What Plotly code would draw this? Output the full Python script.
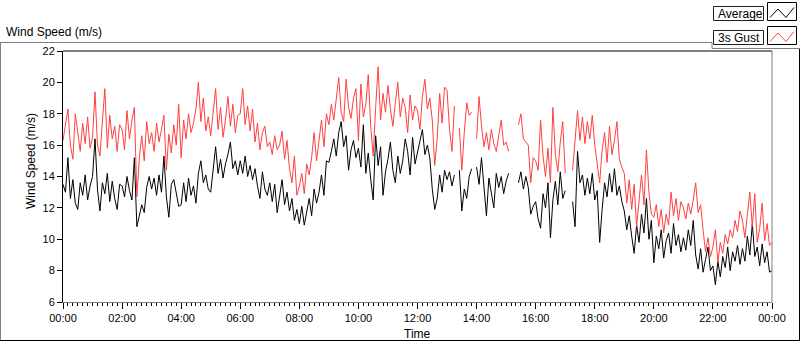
import plotly.graph_objects as go

# ---------------- data (5-minute samples, one row per hour) -------------
AVG_BY_HOUR = [
    [13.5, 13.0, 15.2, 12.6, 13.8, 12.3, 11.9, 13.6, 12.8, 14.1, 12.5, 13.4],   # 00h
    [14.0, 16.4, 13.2, 11.8, 13.6, 12.9, 14.2, 12.4, 13.7, 12.6, 11.9, 13.5],   # 01h
    [13.4, 12.7, 14.0, 13.1, 12.5, 15.2, 10.8, 11.6, 12.2, 11.7, 13.3, 14.0],   # 02h
    [13.2, 13.9, 12.8, 14.1, 13.0, 15.3, 12.7, 11.4, 13.5, 13.8, 12.9, 12.1],   # 03h
    [12.2, 13.6, 12.4, 13.9, 12.8, 13.4, 12.3, 14.2, 15.0, 13.6, 14.1, 13.2],   # 04h
    [13.0, 14.6, 15.9, 14.2, 15.1, 13.9, 14.8, 15.4, 16.2, 14.5, 15.0, 14.1],   # 05h
    [15.0, 14.2, 15.3, 14.0, 14.7, 13.8, 14.5, 13.4, 12.6, 14.3, 13.2, 12.8],   # 06h
    [13.6, 12.4, 13.5, 11.7, 12.9, 13.8, 12.2, 13.0, 11.8, 12.6, 11.2, 11.9],   # 07h
    [11.0, 12.1, 10.9, 11.8, 12.6, 11.5, 13.2, 12.3, 13.0, 14.1, 12.8, 15.0],   # 08h
    [14.9, 15.6, 16.4, 15.3, 16.8, 17.5, 15.9, 16.6, 14.4, 15.7, 16.3, 15.2],   # 09h
    [15.8, 14.6, 17.3, 14.2, 15.5, 13.8, 12.5, 16.6, 14.7, 15.9, 12.8, 14.3],   # 10h
    [15.1, 16.2, 14.4, 13.6, 15.3, 14.2, 15.0, 16.4, 15.6, 14.1, 16.5, 14.8],   # 11h
    [15.6, 16.2, 17.0, 15.4, 16.0, 15.2, 13.2, 11.9, 12.6, 14.1, 13.0, 14.4],   # 12h
    [13.8, 14.3, 13.4, 14.1, None, 14.4, 11.8, 13.2, 12.6, 14.0, 14.5, None],   # 13h
    [14.6, 13.5, 15.2, 13.1, 11.5, 13.9, 12.8, 12.0, 14.2, 13.3, 14.0, 12.9],   # 14h
    [13.7, 14.2, None, None, None, 13.6, 14.3, 13.2, 14.0, 13.3, 11.6, 12.1],   # 15h
    [12.4, 11.3, 10.7, 12.9, 12.0, 13.6, 10.1, 12.5, 13.7, 12.2, 14.3, 12.6],   # 16h
    [13.1, None, None, 12.4, 10.8, 15.6, 13.6, 14.1, 12.8, 13.9, 12.9, 14.2],   # 17h
    [12.5, 13.1, 9.8, 11.9, 13.6, 12.7, 14.2, 13.0, 14.5, 12.8, 13.4, 12.4],    # 18h
    [11.8, 10.6, 11.5, 10.2, 9.1, 10.9, 9.8, 11.6, 10.4, 12.6, 10.0, 11.2],     # 19h
    [8.5, 10.2, 9.4, 10.6, 8.8, 9.9, 10.4, 9.1, 11.0, 9.6, 10.3, 9.2],          # 20h
    [10.1, 9.3, 10.6, 9.6, 11.2, 9.0, 8.1, 9.4, 7.9, 8.7, 9.5, 8.0],            # 21h
    [8.3, 7.1, 8.6, 7.6, 8.9, 8.2, 9.5, 8.0, 9.2, 8.6, 9.6, 8.4],               # 22h
    [9.4, 8.6, 10.2, 9.0, 11.0, 8.9, 9.5, 8.3, 9.7, 8.5, 9.2, 7.9],             # 23h
]
AVG_LAST = 8.0

GUST_BY_HOUR = [
    [16.3, 17.2, 18.3, 16.0, 15.1, 18.0, 16.6, 15.6, 17.4, 16.1, 17.8, 15.8],   # 00h
    [16.5, 19.4, 16.0, 15.3, 17.5, 19.6, 15.8, 17.9, 16.4, 17.2, 15.6, 17.3],   # 01h
    [17.0, 15.7, 18.2, 16.4, 17.6, 18.4, 12.7, 15.2, 16.6, 15.0, 17.5, 16.1],   # 02h
    [16.8, 15.6, 17.4, 16.2, 17.0, 17.9, 14.4, 16.7, 15.5, 17.3, 16.0, 18.6],   # 03h
    [15.2, 17.6, 16.4, 18.0, 16.8, 17.4, 18.3, 20.0, 17.5, 19.0, 16.9, 17.8],   # 04h
    [16.6, 18.2, 19.6, 17.0, 18.4, 16.5, 17.6, 19.1, 17.2, 18.6, 16.8, 17.9],   # 05h
    [18.0, 19.6, 17.3, 18.5, 16.9, 18.3, 16.2, 17.4, 15.7, 16.8, 17.2, 15.9],   # 06h
    [16.2, 15.4, 16.6, 15.7, 16.0, 16.9, 15.1, 16.3, 14.5, 13.6, 15.3, 12.8],   # 07h
    [13.4, 14.2, 12.9, 14.8, 14.1, 15.2, 16.8, 15.0, 16.2, 17.6, 15.9, 18.0],   # 08h
    [17.3, 18.6, 17.6, 19.0, 20.3, 18.1, 17.5, 20.2, 18.4, 17.7, 19.0, 19.6],   # 09h
    [16.3, 19.9, 17.8, 18.6, 20.5, 17.2, 15.3, 18.4, 21.0, 17.6, 19.3, 18.1],   # 10h
    [19.8, 18.3, 17.2, 18.7, 20.0, 17.8, 19.0, 18.4, 16.8, 19.2, 17.6, 18.5],   # 11h
    [18.2, 17.0, 19.1, 20.2, 18.3, 19.0, 17.6, 14.7, 16.4, 19.3, 17.4, 19.7],   # 12h
    [19.5, 17.0, 15.6, 18.5, None, 17.1, 14.4, 16.8, 18.7, 17.9, 18.1, None],   # 13h
    [16.4, 19.1, 17.2, 15.9, 16.8, 15.7, 17.0, 16.1, 15.6, 16.7, 17.6, 16.0],   # 14h
    [16.2, 15.6, None, None, None, 17.3, 18.0, 16.4, 16.2, 16.0, 13.6, 15.2],   # 15h
    [15.0, 14.4, 17.6, 15.3, 14.0, 15.8, 13.6, 18.4, 15.4, 14.3, 16.2, 17.5],   # 16h
    [14.2, None, None, 14.4, 16.5, 18.2, 16.3, 17.8, 16.1, 17.5, 16.4, 17.9],   # 17h
    [16.0, 14.6, 13.6, 15.7, 16.8, 14.9, 17.2, 15.4, 16.3, 17.5, 15.1, 14.6],   # 18h
    [14.2, 12.3, 13.8, 11.9, 13.5, 10.8, 12.7, 14.1, 12.2, 15.7, 13.0, 11.6],   # 19h
    [11.4, 12.2, 10.8, 11.9, 10.4, 11.6, 10.9, 13.0, 11.5, 12.6, 11.2, 12.4],   # 20h
    [12.0, 11.3, 12.3, 11.6, 12.5, 13.6, 11.7, 12.2, 10.6, 9.2, 10.1, 8.9],     # 21h
    [9.5, 10.6, 8.5, 9.8, 9.1, 10.3, 9.7, 10.6, 10.1, 11.2, 10.5, 11.8],        # 22h
    [11.2, 10.1, 11.6, 13.0, 10.8, 12.9, 9.8, 10.7, 12.3, 9.9, 11.0, 9.6],      # 23h
]
GUST_LAST = 9.8

SAMPLES_PER_HOUR = 12
TICK_HOURS = [0, 2, 4, 6, 8, 10, 12, 14, 16, 18, 20, 22, 24]
TICK_LABELS = ["00:00", "02:00", "04:00", "06:00", "08:00", "10:00", "12:00",
               "14:00", "16:00", "18:00", "20:00", "22:00", "00:00"]
SERIES_NAMES = ["Average", "3s Gust"]

avg = [v for row in AVG_BY_HOUR for v in row] + [AVG_LAST]
gust = [v for row in GUST_BY_HOUR for v in row] + [GUST_LAST]
hours = [i / SAMPLES_PER_HOUR for i in range(len(avg))]

# ---------------- layout geometry (pixels) ----------------
W, H = 800, 342
L, R, T, B = 63, 28, 51, 40
PW, PH = W - L - R, H - T - B


def xp(px):
    return (px - L) / PW


def yp(py):
    return (H - B - py) / PH


FONT = "Liberation Sans, Arial, sans-serif"
BLACK = "#000000"
RED = "#FF4040"
GRAY = "#808080"

fig = go.Figure()
fig.add_trace(go.Scatter(x=hours, y=avg, mode="lines", name=SERIES_NAMES[0],
                         line=dict(color=BLACK, width=1), connectgaps=False))
fig.add_trace(go.Scatter(x=hours, y=gust, mode="lines", name=SERIES_NAMES[1],
                         line=dict(color=RED, width=1), connectgaps=False))

shapes = [
    # plot frame: top black, right gray (left/bottom from axes)
    dict(type="line", xref="paper", yref="paper", x0=0, x1=1, y0=1, y1=1,
         line=dict(color=BLACK, width=1)),
    dict(type="line", xref="paper", yref="paper", x0=1, x1=1, y0=0, y1=1,
         line=dict(color=GRAY, width=1)),
    # outer panel
    dict(type="line", xref="paper", yref="paper", x0=xp(0), x1=xp(712), y0=yp(42.5), y1=yp(42.5),
         line=dict(color=GRAY, width=1)),
    dict(type="line", xref="paper", yref="paper", x0=xp(0.5), x1=xp(0.5), y0=yp(42.5), y1=yp(340.5),
         line=dict(color=GRAY, width=1)),
    dict(type="line", xref="paper", yref="paper", x0=xp(0), x1=xp(800), y0=yp(340.5), y1=yp(340.5),
         line=dict(color=BLACK, width=1)),
    dict(type="line", xref="paper", yref="paper", x0=xp(799.5), x1=xp(799.5), y0=yp(48.5), y1=yp(340.5),
         line=dict(color=BLACK, width=1)),
    # legend frame
    dict(type="line", xref="paper", yref="paper", x0=xp(712), x1=xp(712), y0=yp(42.5), y1=yp(48.5),
         line=dict(color=GRAY, width=1)),
    dict(type="line", xref="paper", yref="paper", x0=xp(712), x1=xp(800), y0=yp(48.5), y1=yp(48.5),
         line=dict(color=GRAY, width=1)),
]

legend_rows = [(SERIES_NAMES[0], BLACK, 0), (SERIES_NAMES[1], RED, 24)]
annotations = []
for name, col, dy in legend_rows:
    shapes.append(dict(type="rect", xref="paper", yref="paper",
                       x0=xp(713.5), x1=xp(763.5), y0=yp(20.5 + dy), y1=yp(6.5 + dy),
                       line=dict(color="#202020", width=1), fillcolor="white"))
    shapes.append(dict(type="rect", xref="paper", yref="paper",
                       x0=xp(767.5), x1=xp(796.5), y0=yp(20.5 + dy), y1=yp(2.5 + dy),
                       line=dict(color=BLACK, width=1), fillcolor="white"))
    pts = [(770, 17.5 + dy), (778, 9 + dy), (786, 17.5 + dy), (794, 7.5 + dy)]
    path = "M " + " L ".join(f"{xp(a):.5f},{yp(b):.5f}" for a, b in pts)
    shapes.append(dict(type="path", xref="paper", yref="paper", path=path,
                       line=dict(color=col, width=1)))
    annotations.append(dict(text=name, xref="paper", yref="paper", x=xp(715.5), y=yp(13.8 + dy),
                            xanchor="left", yanchor="middle", showarrow=False,
                            font=dict(family=FONT, size=12, color=BLACK)))

annotations += [
    dict(text="Wind Speed (m/s)", xref="paper", yref="paper", x=xp(4), y=yp(32),
         xanchor="left", yanchor="middle", showarrow=False,
         font=dict(family=FONT, size=12, color=BLACK)),
    dict(text="Wind Speed (m/s)", xref="paper", yref="paper", x=xp(31), y=yp(161),
         xanchor="center", yanchor="middle", textangle=-90, showarrow=False,
         font=dict(family=FONT, size=12, color=BLACK)),
    dict(text="Time", xref="paper", yref="paper", x=xp(417), y=yp(334),
         xanchor="center", yanchor="middle", showarrow=False,
         font=dict(family=FONT, size=12, color=BLACK)),
]

fig.update_layout(
    width=W, height=H,
    margin=dict(l=L, r=R, t=T, b=B, pad=0),
    paper_bgcolor="white", plot_bgcolor="white",
    showlegend=False,
    font=dict(family=FONT, size=11, color=BLACK),
    shapes=shapes, annotations=annotations,
    xaxis=dict(range=[0, 24], tickmode="array", tickvals=TICK_HOURS, ticktext=TICK_LABELS,
               showgrid=False, zeroline=False, showline=True, linecolor=GRAY, linewidth=1,
               ticks="outside", ticklen=6, tickcolor=BLACK, tickwidth=1,
               tickfont=dict(family=FONT, size=11, color=BLACK),
               minor=dict(ticks="outside", ticklen=3, tickcolor=BLACK, dtick=1 / 6, tick0=0,
                          showgrid=False)),
    yaxis=dict(range=[6, 22], dtick=2, tick0=6, showgrid=False, zeroline=False,
               showline=True, linecolor=BLACK, linewidth=1,
               ticks="outside", ticklen=5, tickcolor=BLACK, tickwidth=1,
               tickfont=dict(family=FONT, size=11, color=BLACK)),
)

fig.write_html("out.html", config={"displayModeBar": False},
               post_script="document.body.style.margin='0px';document.body.style.overflow='hidden';")
